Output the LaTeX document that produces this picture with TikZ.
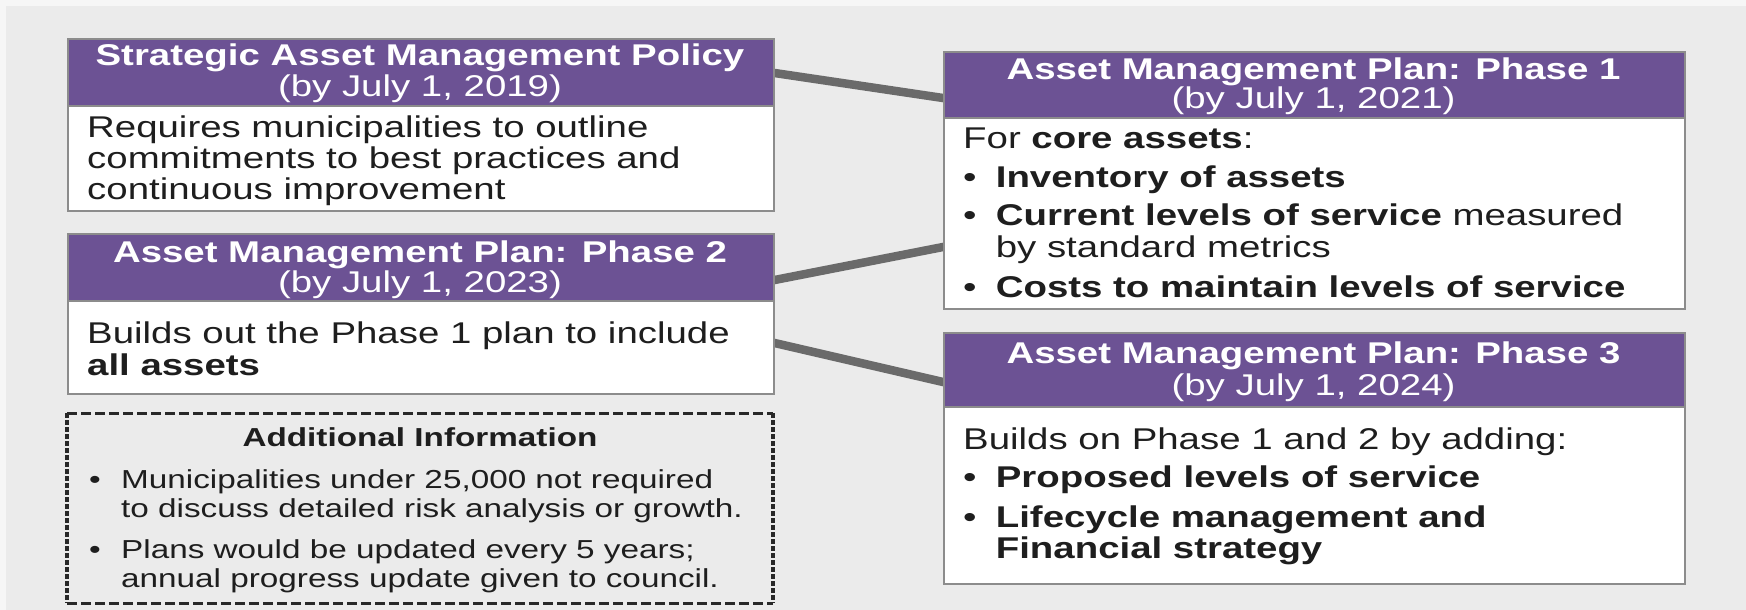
\documentclass[tikz,border=0pt]{standalone}
\usepackage{graphicx}
\usepackage{fontspec}
\setmainfont{Liberation Sans}
\usetikzlibrary{backgrounds}
\definecolor{ampurple}{RGB}{108,82,148}
\definecolor{bggray}{RGB}{235,235,235}
\definecolor{bgedge}{RGB}{246,246,246}
\definecolor{boxline}{RGB}{140,140,140}
\definecolor{conngray}{RGB}{106,106,106}
\definecolor{txtc}{RGB}{30,30,30}
\definecolor{dashc}{RGB}{40,40,40}
\newcommand{\strx}[1]{\scalebox{1.28}[1]{#1}}
\newcommand{\bigfnt}{\fontsize{30}{34}\selectfont}
\newcommand{\smallfnt}{\fontsize{26}{30}\selectfont}
\newcommand{\bul}{\makebox[25.5pt][l]{\textmd{•}}}
\newcommand{\bulsm}{\makebox[25pt][l]{\textmd{•}}}
\begin{document}
\begin{tikzpicture}[x=1pt,y=-1pt,
  bodybox/.style={fill=white, draw=boxline, line width=1.6pt, inner sep=0pt, anchor=north west},
  hdrbox/.style={fill=ampurple, draw=boxline, line width=1.6pt, inner sep=0pt, anchor=north west},
  conn/.style={draw=conngray, line width=8.5pt, shorten <=-7pt, shorten >=-7pt},
  htext/.style={text=white, anchor=base, inner sep=0pt, font=\bigfnt},
  btext/.style={text=txtc, anchor=base west, inner sep=0pt, font=\bigfnt},
  stext/.style={text=txtc, anchor=base west, inner sep=0pt, font=\smallfnt},
  dashh/.style={draw=dashc, line width=3pt, dash pattern=on 10pt off 4pt},
  dashv/.style={draw=dashc, line width=4pt, dash pattern=on 5pt off 2pt},
  plain/.style={inner sep=0pt, anchor=north west}
]
\useasboundingbox (0,0) rectangle (1746,610);

% ---- left column ----
\node[bodybox, minimum width=706pt, minimum height=172pt] (b1) at (67,38) {};
\node[hdrbox, minimum width=706pt, minimum height=67pt] (h1) at (67,38) {};
\node[htext] (h1a) at (420,66) {\strx{\bfseries Strategic Asset Management Policy}};
\node[htext] (h1b) at (420,96) {\strx{(by July 1, 2019)}};
\node[btext] (t1a) at (87,137) {\strx{Requires municipalities to outline}};
\node[btext] (t1b) at (87,168) {\strx{commitments to best practices and}};
\node[btext] (t1c) at (87,199) {\strx{continuous improvement}};

\node[bodybox, minimum width=706pt, minimum height=160pt] (b2) at (67,233) {};
\node[hdrbox, minimum width=706pt, minimum height=67pt] (h2) at (67,233) {};
\node[htext] (h2a) at (420,262) {\strx{\bfseries Asset Management Plan: Phase 2}};
\node[htext] (h2b) at (420,292) {\strx{(by July 1, 2023)}};
\node[btext] (t2a) at (87,343) {\strx{Builds out the Phase 1 plan to include}};
\node[btext] (t2b) at (87,375) {\strx{\bfseries all assets}};

\node[plain, minimum width=706pt, minimum height=190pt] (d) at (67,413) {};
\draw[dashh] (d.north west) -- (d.north east);
\draw[dashh] (d.south west) -- (d.south east);
\draw[dashv] (d.north west) -- (d.south west);
\draw[dashv] (d.north east) -- (d.south east);
\node[stext, anchor=base] (dt) at (420,446) {\strx{\bfseries Additional Information}};
\node[stext] (d1a) at (89,488) {\strx{\bulsm Municipalities under 25,000 not required}};
\node[stext] (d1b) at (89,517) {\strx{\makebox[25pt]{}to discuss detailed risk analysis or growth.}};
\node[stext] (d2a) at (89,558) {\strx{\bulsm Plans would be updated every 5 years;}};
\node[stext] (d2b) at (89,587) {\strx{\makebox[25pt]{}annual progress update given to council.}};

% ---- right column ----
\node[bodybox, minimum width=741pt, minimum height=257pt] (r1) at (943,51) {};
\node[hdrbox, minimum width=741pt, minimum height=66pt] (rh1) at (943,51) {};
\node[htext] (rh1a) at (1313.5,79) {\strx{\bfseries Asset Management Plan: Phase 1}};
\node[htext] (rh1b) at (1313.5,108) {\strx{(by July 1, 2021)}};
\node[btext] (r1a) at (963,148) {\strx{For \textbf{core assets}:}};
\node[btext] (r1b) at (963,187) {\strx{\bul\textbf{Inventory of assets}}};
\node[btext] (r1c) at (963,225) {\strx{\bul\textbf{Current levels of service} measured}};
\node[btext] (r1d) at (963,257) {\strx{\makebox[25.5pt]{}by standard metrics}};
\node[btext] (r1e) at (963,297) {\strx{\bul\textbf{Costs to maintain levels of service}}};

\node[bodybox, minimum width=741pt, minimum height=251pt] (r3) at (943,332) {};
\node[hdrbox, minimum width=741pt, minimum height=74pt] (rh3) at (943,332) {};
\node[htext] (rh3a) at (1313.5,363) {\strx{\bfseries Asset Management Plan: Phase 3}};
\node[htext] (rh3b) at (1313.5,395) {\strx{(by July 1, 2024)}};
\node[btext] (r3a) at (963,449) {\strx{Builds on Phase 1 and 2 by adding:}};
\node[btext] (r3b) at (963,487) {\strx{\bul\textbf{Proposed levels of service}}};
\node[btext] (r3c) at (963,527) {\strx{\bul\textbf{Lifecycle management and}}};
\node[btext] (r3d) at (963,558) {\strx{\makebox[25.5pt]{}\textbf{Financial strategy}}};

% ---- background and connectors ----
\begin{pgfonlayer}{background}
\fill[bgedge] (0,0) rectangle (1746,610);
\fill[bggray] (6,6) rectangle (1746,610);
\draw[conn] ([yshift=-35pt]b1.north east) -- ([yshift=-47pt]r1.north west);
\draw[conn] ([yshift=-47pt]b2.north east) -- ([yshift=-196pt]r1.north west);
\draw[conn] ([yshift=-110pt]b2.north east) -- ([yshift=-50pt]r3.north west);
\end{pgfonlayer}
\end{tikzpicture}
\end{document}
